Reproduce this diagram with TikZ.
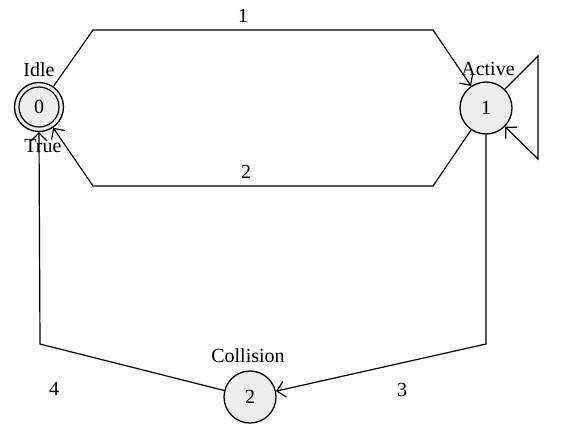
\documentclass[tikz,border=0pt]{standalone}
\usepackage{fontspec}
\setmainfont{Liberation Serif}
\usetikzlibrary{arrows.meta}
\begin{document}
\begin{tikzpicture}[x=1pt,y=-1pt,
  font=\fontsize{20}{23}\selectfont,
  statenode/.style={circle,draw,line width=1.3pt,fill=black!7,minimum size=52pt,inner sep=0pt},
  edge/.style={draw,line width=1.2pt,-{Straight Barb[length=8pt,width=16pt,line width=1.2pt]}},
  lbl/.style={inner sep=0pt}]
\useasboundingbox (0,0) rectangle (569,423);
% states
\node[statenode,minimum size=49pt] (n0) at (39,107) {0};
\draw[line width=1.2pt] (n0.center) circle (20);
\node[statenode] (n1) at (486,108) {1};
\node[statenode] (n2) at (250,397) {2};
% state labels
\node[lbl] (l0) at (39,70) {Idle};
\node[lbl] (l0b) at (43,146) {True};
\node[lbl] (l1) at (488,69) {Active};
\node[lbl] (l2) at (248,356) {Collision};
% corner coordinates
\coordinate (a1) at (93,30);
\coordinate (a2) at (433,30);
\coordinate (b1) at (433,186);
\coordinate (b2) at (93,186);
\coordinate (s1) at (538,56);
\coordinate (s2) at (538,159);
\coordinate (c1) at (486,344);
\coordinate (d1) at (40,344);
% edges
\path[edge] (n0) -- (a1) -- (a2) -- (n1);
\path[edge] (n1) -- (b1) -- (b2) -- (n0);
\path[edge] (n1) -- (s1) -- (s2) -- (n1);
\path[edge] (n1.south) -- (c1) -- (n2);
\path[edge] (n2) -- (d1) -- (n0.south);
% edge labels
\node[lbl] (e1) at (243,16) {1};
\node[lbl] (e2) at (246,172) {2};
\node[lbl] (e3) at (402,390) {3};
\node[lbl] (e4) at (54,389) {4};
\end{tikzpicture}
\end{document}
